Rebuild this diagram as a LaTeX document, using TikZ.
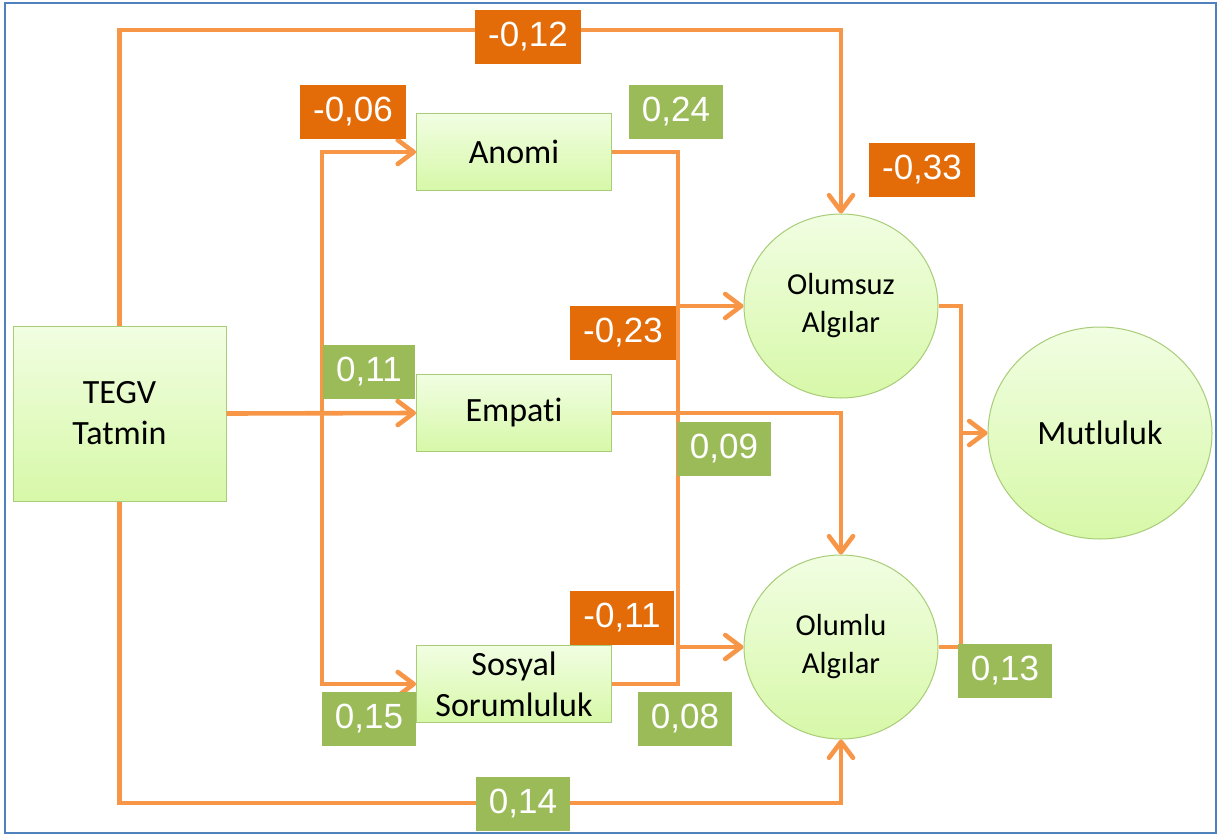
\documentclass[tikz,border=0pt]{standalone}
\usepackage{fontspec}
\setmainfont{Carlito}[RawFeature={-liga}]
\newfontfamily\numfont{Liberation Sans}
\usepackage{tikz}
\usetikzlibrary{arrows.meta,positioning,shapes.geometric}

\definecolor{pathorange}{HTML}{F79646}
\definecolor{coefneg}{HTML}{E36C09}
\definecolor{coefpos}{HTML}{9BBB59}
\definecolor{boxtop}{HTML}{F1FEE2}
\definecolor{boxbot}{HTML}{D7F8A8}
\definecolor{nodeline}{HTML}{A8CC78}
\definecolor{frameblue}{HTML}{4F81BD}

\begin{document}
\begin{tikzpicture}[
  x=1pt, y=-1pt,
  var/.style={draw=nodeline, line width=1pt, top color=boxtop, bottom color=boxbot,
              align=center, inner sep=0pt, font=\fontsize{34}{41}\selectfont},
  obs/.style={var, rectangle, minimum width=195pt, minimum height=77pt},
  lat/.style={var, ellipse, minimum width=194pt, minimum height=184pt,
              font=\fontsize{30.5}{38}\selectfont},
  coef/.style={text=white, minimum height=54pt, inner xsep=13pt, inner ysep=0pt,
               font=\numfont\fontsize{35}{35}\selectfont},
  negcoef/.style={coef, fill=coefneg},
  poscoef/.style={coef, fill=coefpos},
  link/.style={draw=pathorange, line width=4.6pt},
  arrow/.style={link, -{Straight Barb[length=16pt,width=24pt,round]}},
]
\useasboundingbox (0,0) rectangle (1222,835);
\draw[frameblue, line width=2pt] (5,3) rectangle (1216,833);

% --- Variables ---
\node[obs, minimum width=213pt, minimum height=175pt] (tegv) at (119.5,413.5) {TEGV\\Tatmin};
\node[obs] (anomi) at (514,152) {Anomi};
\node[obs] (empati) at (514,413) {Empati};
\node[obs] (sosyal) at (514,684) {Sosyal\\Sorumluluk};
\node[lat] (olumsuz) at (841,306) {Olumsuz\\Algılar};
\node[lat] (olumlu) at (841,647) {Olumlu\\Algılar};
\node[lat, minimum width=224pt, minimum height=212pt,
      font=\fontsize{34}{40}\selectfont] (mutluluk) at (1100,433) {Mutluluk};

% --- Junctions ---
\coordinate (split) at (322,0);
\coordinate (busL) at (678,0);
\coordinate (busR) at (961,0);

% --- Paths ---
\draw[arrow] (tegv.north) -- (tegv.north |- 0,30) -| (olumsuz.north);
\draw[arrow] (tegv.south) -- (tegv.south |- 0,803) -| (olumlu.south);
\draw[arrow] (tegv.east) -- (empati.west);
\draw[arrow] (tegv.east -| split) |- (anomi.west);
\draw[arrow] (tegv.east -| split) |- (sosyal.west);
\draw[link] (anomi.east) -- (anomi.east -| busL) -- (sosyal.east -| busL) -- (sosyal.east);
\draw[arrow] (olumsuz.west -| busL) -- (olumsuz.west);
\draw[arrow] (olumlu.west -| busL) -- (olumlu.west);
\draw[arrow] (empati.east) -| (olumlu.north);
\draw[link] (olumsuz.east) -- (olumsuz.east -| busR) -- (olumlu.east -| busR) -- (olumlu.east);
\draw[arrow] (mutluluk.west -| busR) -- (mutluluk.west);

% --- Coefficients ---
\node[negcoef] (c-top) at (528,37) {-0,12};
\node[negcoef] (c-anomi) at (353,112) {-0,06};
\node[poscoef] (c-anomi-out) at (676,112) {0,24};
\node[negcoef] (c-olumsuz) at (922,170) {-0,33};
\node[negcoef] (c-anomi-olumsuz) at (623,333) {-0,23};
\node[poscoef] (c-empati) at (369,372) {0,11};
\node[poscoef] (c-empati-olumlu) at (724,449) {0,09};
\node[negcoef] (c-sosyal-olumsuz) at (622,618) {-0,11};
\node[poscoef] (c-sosyal) at (369,719) {0,15};
\node[poscoef] (c-sosyal-olumlu) at (685,719) {0,08};
\node[poscoef] (c-olumlu) at (1005,671) {0,13};
\node[poscoef] (c-bottom) at (523,804) {0,14};
\end{tikzpicture}
\end{document}
